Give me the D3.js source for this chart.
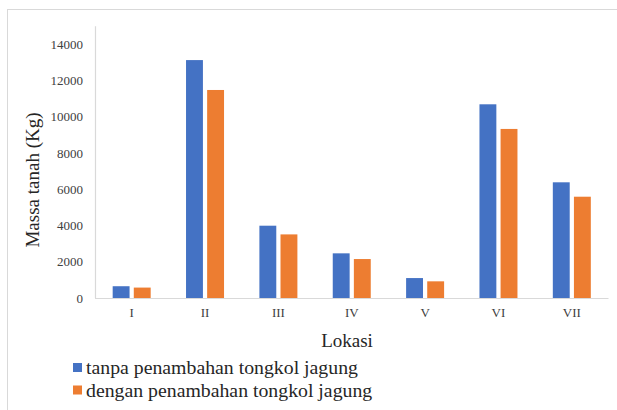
<!DOCTYPE html>
<html><head><meta charset="utf-8">
<script src="https://cdn.jsdelivr.net/npm/d3@7"></script>
<style>html,body{margin:0;padding:0;background:#fff;}svg{display:block;}</style>
</head><body>
<svg id="c" width="617" height="410"></svg>
<script>
const categories = ["I","II","III","IV","V","VI","VII"];
const seriesNames = ["tanpa penambahan tongkol jagung","dengan penambahan tongkol jagung"];
const tanpa = [650, 13130, 3990, 2465, 1100, 10690, 6385];
const dengan = [575, 11480, 3510, 2150, 920, 9330, 5590];
const yTicks = [0,2000,4000,6000,8000,10000,12000,14000];
const colors = ["#4472C4","#ED7D31"];

const FONT = "Liberation Serif";
const svg = d3.select("#c");

// frame
svg.append("rect").attr("x",7.5).attr("y",9.5).attr("width",620).attr("height",410)
  .attr("fill","none").attr("stroke","#d9d9d9").attr("stroke-width",1);

const x = d3.scaleBand().domain(categories).range([95,608.5]).padding(0);
const y = d3.scaleLinear().domain([0,15000]).range([298,26.2]);
const x1 = d3.scaleBand().domain([0,1]).range([-19,19]).paddingInner(0.2).paddingOuter(0);

// axes lines
svg.append("line").attr("x1",x.range()[0]).attr("x2",x.range()[1]).attr("y1",y(0)+0.5).attr("y2",y(0)+0.5)
  .attr("stroke","#d9d9d9").attr("stroke-width",1.2);
svg.append("line").attr("x1",95.5).attr("x2",95.5).attr("y1",y(0)).attr("y2",y(15000))
  .attr("stroke","#d9d9d9").attr("stroke-width",1.2);

// y ticks
const yAxis = d3.axisLeft(y).tickValues(yTicks).tickSize(0).tickPadding(12).tickFormat(d3.format("d"));
const ga = svg.append("g").attr("transform","translate(95,0)").call(yAxis);
ga.attr("font-family",FONT).attr("font-size",13);
ga.select(".domain").remove();
ga.selectAll("text").attr("font-family",FONT).attr("font-size",13).attr("fill","#404040");

// x ticks
const xAxis = d3.axisBottom(x).tickSize(0).tickPadding(10);
const gx = svg.append("g").attr("transform",`translate(0,${y(0)})`).call(xAxis);
gx.attr("font-family",FONT).attr("font-size",13);
gx.select(".domain").remove();
gx.selectAll("text").attr("font-family",FONT).attr("font-size",13).attr("fill","#404040");

// bars
const data = [tanpa, dengan];
data.forEach((vals, si) => {
  svg.append("g").selectAll("rect").data(categories).join("rect")
    .attr("x", c => x(c) + x.bandwidth()/2 + x1(si))
    .attr("width", x1.bandwidth())
    .attr("y", (c,i) => y(vals[i]))
    .attr("height", (c,i) => y(0) - y(vals[i]))
    .attr("fill", colors[si]);
});

// titles
svg.append("text").attr("transform","translate(39,180) rotate(-90)").attr("text-anchor","middle")
  .attr("font-family",FONT).attr("font-size",19).attr("fill","#262626").text("Massa tanah (Kg)");
svg.append("text").attr("x",347).attr("y",347).attr("text-anchor","middle")
  .attr("font-family",FONT).attr("font-size",19).attr("fill","#262626").text("Lokasi");

// legend
seriesNames.forEach((n, i) => {
  const cy = 368 + i*22.5;
  svg.append("rect").attr("x",73).attr("y",cy-5).attr("width",9).attr("height",9).attr("fill",colors[i]);
  svg.append("text").attr("x",86).attr("y",cy+6).attr("font-family",FONT).attr("font-size",19.8)
    .attr("fill","#262626").text(n);
});
</script>
</body></html>
